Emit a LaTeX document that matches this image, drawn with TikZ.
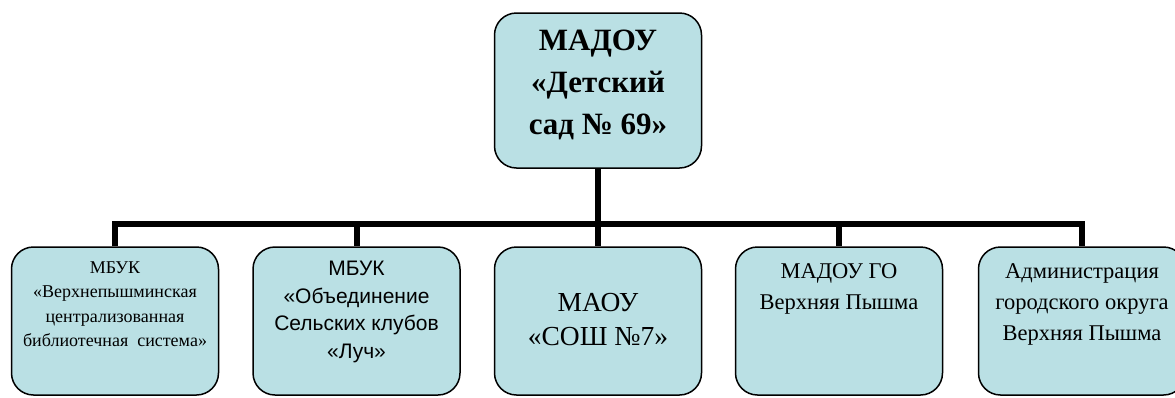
\documentclass[tikz,border=0pt]{standalone}
\usepackage{fontspec}
\setmainfont{Liberation Serif}
\newfontfamily\arialfont{Liberation Sans}
\definecolor{boxfill}{RGB}{186,224,228}

\begin{document}
\begin{tikzpicture}[x = 1pt, y = -1pt,
    orgbox/.style = {rectangle, rounded corners = 22pt, draw = black, line width = 1.5pt, fill = boxfill, minimum width = 207pt, minimum height = 148pt, inner sep = 0pt},
    orgtext/.style = {anchor = north, align = center, inner sep = 0pt},
    link/.style = {line width = 6pt, draw = black}]

	\useasboundingbox (0, 0) rectangle (1175, 397);
	\clip (0, 0) rectangle (1175, 397);

	\node (MADOU) at ( 598,  90.5) [orgbox, minimum height = 155pt] {};
	\node (MBUK1) at ( 115, 321)   [orgbox] {};
	\node (MBUK2) at ( 356.5, 321) [orgbox] {};
	\node (MAOU)  at ( 598, 321)   [orgbox] {};
	\node (MADOU2) at ( 839, 321)  [orgbox] {};
	\node (ADM)   at (1082, 321)   [orgbox] {};

	\node (MADOUt) at ([yshift = -18pt] MADOU.north) [orgtext, font = \fontsize{31}{42}\selectfont\bfseries] {МАДОУ\\«Детский\\сад № 69»};
	\node (MBUK1t) at ([yshift = -15pt] MBUK1.north) [orgtext, font = \fontsize{18}{24.5}\selectfont] {МБУК\\«Верхнепышминская\\централизованная\\библиотечная~ система»};
	\node (MBUK2t) at ([yshift = -15pt] MBUK2.north) [orgtext, font = \arialfont\fontsize{21}{27.5}\selectfont] {МБУК\\«Объединение\\Сельских клубов\\«Луч»};
	\node (MAOUt)  at ([yshift = -47pt] MAOU.north)  [orgtext, font = \fontsize{27.5}{34}\selectfont] {МАОУ\\«СОШ №7»};
	\node (MADOU2t) at ([yshift = -17pt] MADOU2.north) [orgtext, font = \fontsize{22.5}{31}\selectfont] {МАДОУ ГО\\Верхняя Пышма};
	\node (ADMt)   at ([yshift = -17pt] ADM.north)   [orgtext, font = \fontsize{22.5}{31}\selectfont] {Администрация\\городского округа\\Верхняя Пышма};

	\coordinate (bus) at (598, 224);

	\draw [link] (MADOU.south) -- (MADOU.south |- bus);
	\draw [link] (MBUK1.north) |- (ADM.north |- bus) -- (ADM.north);
	\foreach \to in {MBUK2, MAOU, MADOU2}
		\draw [link] (\to.north |- bus) -- (\to.north);

\end{tikzpicture}
\end{document}
